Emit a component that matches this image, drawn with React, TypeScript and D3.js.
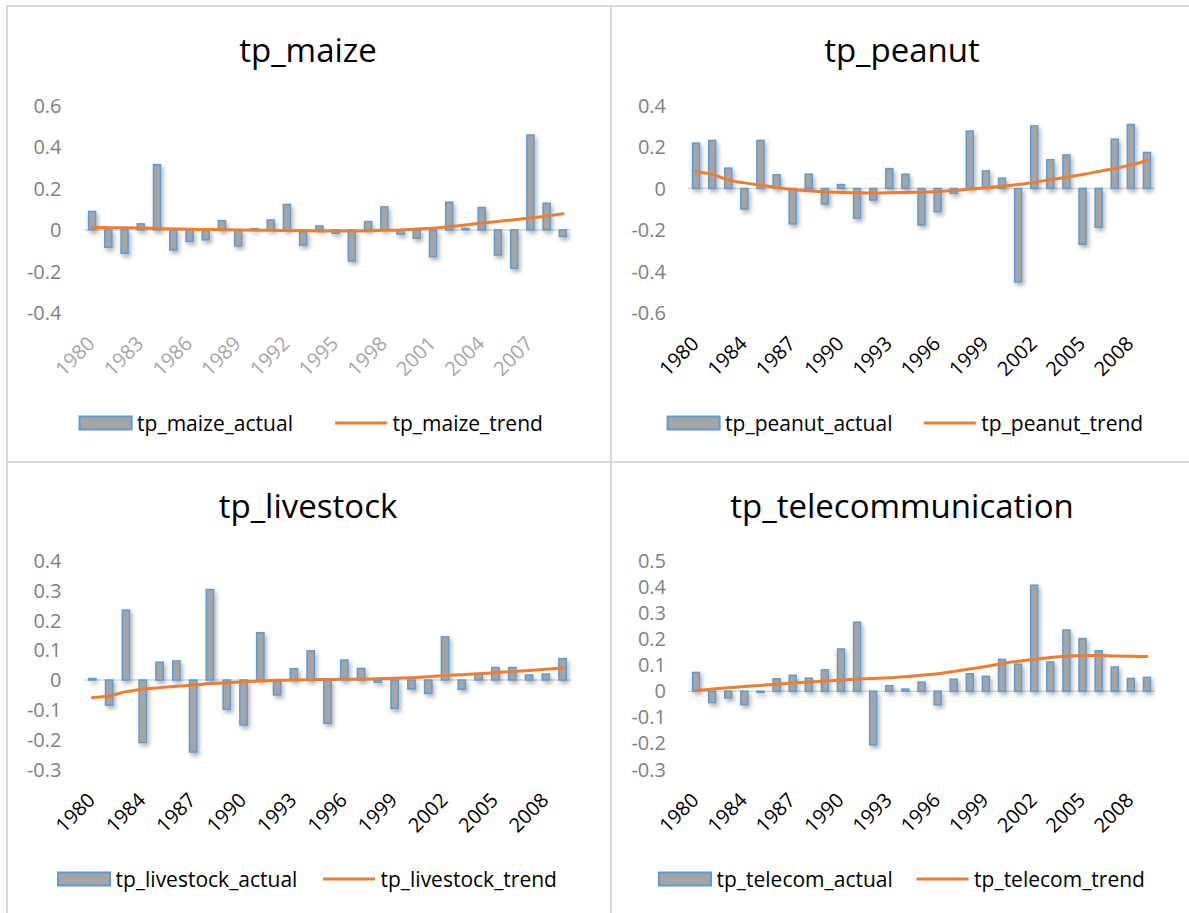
import React from "react";
import * as d3 from "d3";

// categories
const maizeYears = [
  "1980", "1981", "1982", "1983", "1984", "1985", "1986", "1987", "1988", "1989",
  "1990", "1991", "1992", "1993", "1994", "1995", "1996", "1997", "1998", "1999",
  "2000", "2001", "2002", "2003", "2004", "2005", "2006", "2007", "2008", "2009",
];
const otherYears = [
  "1980", "1982", "1983", "1984", "1985", "1986", "1987", "1988", "1989",
  "1990", "1991", "1992", "1993", "1994", "1995", "1996", "1997", "1998", "1999",
  "2000", "2001", "2002", "2003", "2004", "2005", "2006", "2007", "2008", "2009",
];

// tick labels
const maizeXTicks = ["1980", "1983", "1986", "1989", "1992", "1995", "1998", "2001", "2004", "2007"];
const otherXTicks = ["1980", "1984", "1987", "1990", "1993", "1996", "1999", "2002", "2005", "2008"];
const maizeYTicks = [0.6, 0.4, 0.2, 0, -0.2, -0.4];
const peanutYTicks = [0.4, 0.2, 0, -0.2, -0.4, -0.6];
const livestockYTicks = [0.4, 0.3, 0.2, 0.1, 0, -0.1, -0.2, -0.3];
const telecomYTicks = [0.5, 0.4, 0.3, 0.2, 0.1, 0, -0.1, -0.2, -0.3];

// series values
const maizeActual = [
  0.089, -0.084, -0.113, 0.029, 0.315, -0.097, -0.056, -0.048, 0.045, -0.077,
  0.006, 0.048, 0.123, -0.073, 0.019, -0.016, -0.15, 0.04, 0.111, -0.021,
  -0.04, -0.129, 0.134, 0.008, 0.108, -0.121, -0.185, 0.458, 0.129, -0.032,
];
const maizeTrend = [
  0.012, 0.011, 0.01, 0.009, 0.007, 0.005, 0.003, 0.002, 0.001, 0.0,
  -0.001, -0.002, -0.003, -0.004, -0.005, -0.005, -0.005, -0.004, -0.002, 0.0,
  0.004, 0.008, 0.015, 0.024, 0.033, 0.041, 0.049, 0.057, 0.067, 0.078,
];
const peanutActual = [
  0.219, 0.232, 0.098, -0.099, 0.232, 0.066, -0.171, 0.069, -0.075,
  0.019, -0.144, -0.056, 0.096, 0.069, -0.176, -0.112, -0.024, 0.277, 0.085,
  0.05, -0.451, 0.302, 0.139, 0.162, -0.269, -0.187, 0.238, 0.309, 0.174,
];
const peanutTrend = [
  0.08, 0.069, 0.04, 0.027, 0.016, 0.005, -0.005, -0.011, -0.016,
  -0.019, -0.021, -0.022, -0.021, -0.019, -0.018, -0.014, -0.01, -0.003, 0.003,
  0.011, 0.019, 0.03, 0.042, 0.054, 0.067, 0.082, 0.096, 0.114, 0.134,
];
const livestockActual = [
  0.005, -0.084, 0.235, -0.21, 0.06, 0.064, -0.242, 0.304, -0.098,
  -0.151, 0.159, -0.05, 0.038, 0.098, -0.145, 0.067, 0.039, -0.008, -0.096,
  -0.03, -0.045, 0.145, -0.031, 0.02, 0.042, 0.042, 0.017, 0.02, 0.072,
];
const livestockTrend = [
  -0.059, -0.054, -0.039, -0.031, -0.026, -0.021, -0.017, -0.012, -0.009,
  -0.006, -0.003, -0.001, 0.0, 0.001, 0.002, 0.003, 0.003, 0.004, 0.006,
  0.008, 0.011, 0.015, 0.018, 0.021, 0.025, 0.029, 0.032, 0.036, 0.041,
];
const telecomActual = [
  0.072, -0.044, -0.026, -0.052, -0.005, 0.048, 0.061, 0.05, 0.082,
  0.162, 0.265, -0.206, 0.021, 0.008, 0.035, -0.052, 0.046, 0.067, 0.057,
  0.122, 0.104, 0.407, 0.112, 0.235, 0.202, 0.155, 0.093, 0.049, 0.053,
];
const telecomTrend = [
  0.003, 0.008, 0.013, 0.018, 0.022, 0.027, 0.031, 0.035, 0.039,
  0.043, 0.046, 0.049, 0.052, 0.055, 0.061, 0.067, 0.076, 0.085, 0.095,
  0.106, 0.115, 0.122, 0.129, 0.134, 0.137, 0.137, 0.135, 0.134, 0.133,
];

const FONT = "'Open Sans', sans-serif";
const BAR_FILL = "#a5a5a5";
const BAR_STROKE = "#5b9bd5";
const TREND = "#ed7d31";
const GRID = "#d9d9d9";

type PanelProps = {
  title: string;
  years: string[];
  actual: number[];
  trend: number[];
  xTicks: string[];
  yTicks: number[];
  actualName: string;
  trendName: string;
  x0: number;
  x1: number;
  yTop: number;
  yBot: number;
  titleX: number;
  titleY: number;
  labelX: number;
  legendY: number;
  legendX: [number, number];
  xTickColor: string;
};

function Panel(p: PanelProps) {
  const x = d3
    .scaleBand<string>()
    .domain(p.years)
    .range([p.x0, p.x1])
    .paddingInner(0.565)
    .paddingOuter(0.2825);
  const y = d3
    .scaleLinear()
    .domain([d3.min(p.yTicks)!, d3.max(p.yTicks)!])
    .range([p.yBot, p.yTop]);
  const cx = (yr: string) => (x(yr) ?? 0) + x.bandwidth() / 2;

  const line = d3
    .line<number>()
    .x((_, i) => cx(p.years[i]))
    .y((d) => y(d))
    .curve(d3.curveCatmullRom.alpha(0.5));

  return (
    <g fontFamily={FONT}>
      <text x={p.titleX} y={p.titleY} textAnchor="middle" fontSize={33} fill="#000">
        {p.title}
      </text>
      {p.yTicks.map((t) => (
        <text key={t} x={p.labelX} y={y(t)} dy="0.36em" textAnchor="end" fontSize={20} fill="#808080">
          {String(t)}
        </text>
      ))}
      <line x1={p.x0} x2={p.x1} y1={y(0)} y2={y(0)} stroke={GRID} strokeWidth={1.5} />
      <g filter="url(#barShadow)">
        {p.actual.map((v, i) => (
          <rect
            key={i}
            x={x(p.years[i])}
            y={Math.min(y(v), y(0))}
            width={x.bandwidth()}
            height={Math.abs(y(v) - y(0))}
            fill={BAR_FILL}
            stroke={BAR_STROKE}
            strokeWidth={1.5}
          />
        ))}
      </g>
      <path d={line(p.trend) ?? ""} fill="none" stroke={TREND} strokeWidth={3} strokeLinecap="round" />
      {p.xTicks.map((t) => (
        <text
          key={t}
          transform={`translate(${cx(t) + 4},${p.yBot + 32}) rotate(-45)`}
          textAnchor="end"
          fontSize={20}
          fill={p.xTickColor}
        >
          {t}
        </text>
      ))}
      {/* legend */}
      <rect
        x={p.legendX[0]}
        y={p.legendY - 6.5}
        width={52}
        height={13}
        fill={BAR_FILL}
        stroke={BAR_STROKE}
        strokeWidth={2}
      />
      <text x={p.legendX[0] + 57.5} y={p.legendY} dy="0.36em" fontSize={21} fill="#000">
        {p.actualName}
      </text>
      <line
        x1={p.legendX[1]}
        x2={p.legendX[1] + 52}
        y1={p.legendY}
        y2={p.legendY}
        stroke={TREND}
        strokeWidth={3}
      />
      <text x={p.legendX[1] + 57.5} y={p.legendY} dy="0.36em" fontSize={21} fill="#000">
        {p.trendName}
      </text>
    </g>
  );
}

export default function App() {
  const left = { x0: 84, x1: 571, titleX: 308, labelX: 61.5 };
  const right = { x0: 688, x1: 1155, titleX: 902, labelX: 666 };
  const top = { yTop: 105.6, yBot: 312.8, titleY: 62, legendY: 423 };
  const bottom = { yTop: 561, yBot: 769.3, titleY: 518, legendY: 879 };

  return (
    <svg
      width={1189}
      height={913}
      style={{ position: "absolute", left: 0, top: 0, background: "#fff" }}
    >
      <defs>
        <filter id="barShadow" x="-50%" y="-20%" width="200%" height="140%">
          <feDropShadow dx="2" dy="3" stdDeviation="2" floodColor="#000" floodOpacity="0.3" />
        </filter>
      </defs>
      <rect width={1189} height={913} fill="#fff" />
      {/* panel borders */}
      <line x1={6} x2={1189} y1={6} y2={6} stroke={GRID} strokeWidth={2} />
      <line x1={7} x2={7} y1={6} y2={913} stroke={GRID} strokeWidth={2} />
      <line x1={611} x2={611} y1={6} y2={913} stroke={GRID} strokeWidth={2} />
      <line x1={6} x2={1189} y1={462} y2={462} stroke={GRID} strokeWidth={2} />

      <Panel
        title="tp_maize"
        years={maizeYears}
        actual={maizeActual}
        trend={maizeTrend}
        xTicks={maizeXTicks}
        yTicks={maizeYTicks}
        actualName="tp_maize_actual"
        trendName="tp_maize_trend"
        {...left}
        {...top}
        legendX={[79.6, 335]}
        xTickColor="#a6a6a6"
      />
      <Panel
        title="tp_peanut"
        years={otherYears}
        actual={peanutActual}
        trend={peanutTrend}
        xTicks={otherXTicks}
        yTicks={peanutYTicks}
        actualName="tp_peanut_actual"
        trendName="tp_peanut_trend"
        {...right}
        {...top}
        legendX={[667.6, 923.8]}
        xTickColor="#000"
      />
      <Panel
        title="tp_livestock"
        years={otherYears}
        actual={livestockActual}
        trend={livestockTrend}
        xTicks={otherXTicks}
        yTicks={livestockYTicks}
        actualName="tp_livestock_actual"
        trendName="tp_livestock_trend"
        {...left}
        {...bottom}
        legendX={[58, 323]}
        xTickColor="#000"
      />
      <Panel
        title="tp_telecommunication"
        years={otherYears}
        actual={telecomActual}
        trend={telecomTrend}
        xTicks={otherXTicks}
        yTicks={telecomYTicks}
        actualName="tp_telecom_actual"
        trendName="tp_telecom_trend"
        {...right}
        {...bottom}
        legendX={[659, 916.6]}
        xTickColor="#000"
      />
    </svg>
  );
}
